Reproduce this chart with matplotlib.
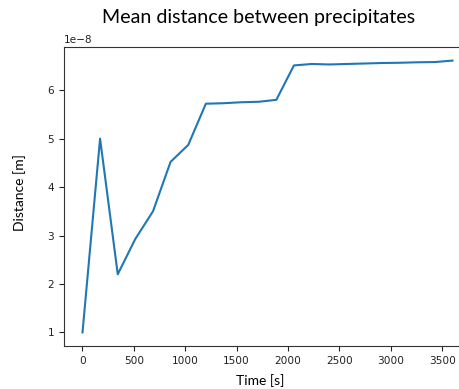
"""Mean distance between precipitates over time."""

import matplotlib

matplotlib.use("Agg")
import matplotlib.pyplot as plt

# time in seconds (22 outputs, every 3600/21 s)
time_s = [0, 171, 343, 514, 686, 857, 1029, 1200, 1371, 1543, 1714,
          1886, 2057, 2229, 2400, 2571, 2743, 2914, 3086, 3257, 3429, 3600]
# mean distance, units of 1e-8 m
distance_e8 = [1.00, 5.00, 2.20, 2.93, 3.50, 4.52, 4.87, 5.72, 5.73, 5.75, 5.76,
               5.80, 6.51, 6.54, 6.53, 6.54, 6.55, 6.56, 6.565, 6.575, 6.58, 6.61]

distance_m = [d * 1e-8 for d in distance_e8]

W, H = 460, 389
fig = plt.figure(figsize=(W / 100, H / 100), dpi=100)
ax = fig.add_axes([64 / W, 43 / H, (471 - 64) / W, (346 - 47) / H])

ax.plot(time_s, distance_m, color="#1f77b4", linewidth=1.5)
ax.set_yticks([v * 1e-8 for v in range(1, 7)])
ax.tick_params(labelsize=7.6, colors="#222222")
ax.yaxis.get_offset_text().set_fontsize(7.6)
for spine in ax.spines.values():
    spine.set_color("#333333")

fig.text(259 / W, 1 - 23 / H, "Mean distance between precipitates",
         ha="center", va="baseline", fontsize=14.1, family="Lato")
fig.text(260 / W, 1 - 385 / H, "Time [s]",
         ha="center", va="baseline", fontsize=10, family="Lato")
fig.text(20 / W, 1 - 193 / H, "Distance [m]", rotation=90,
         ha="center", va="center", fontsize=10, family="Lato")

fig.savefig("out.png", dpi=100)
